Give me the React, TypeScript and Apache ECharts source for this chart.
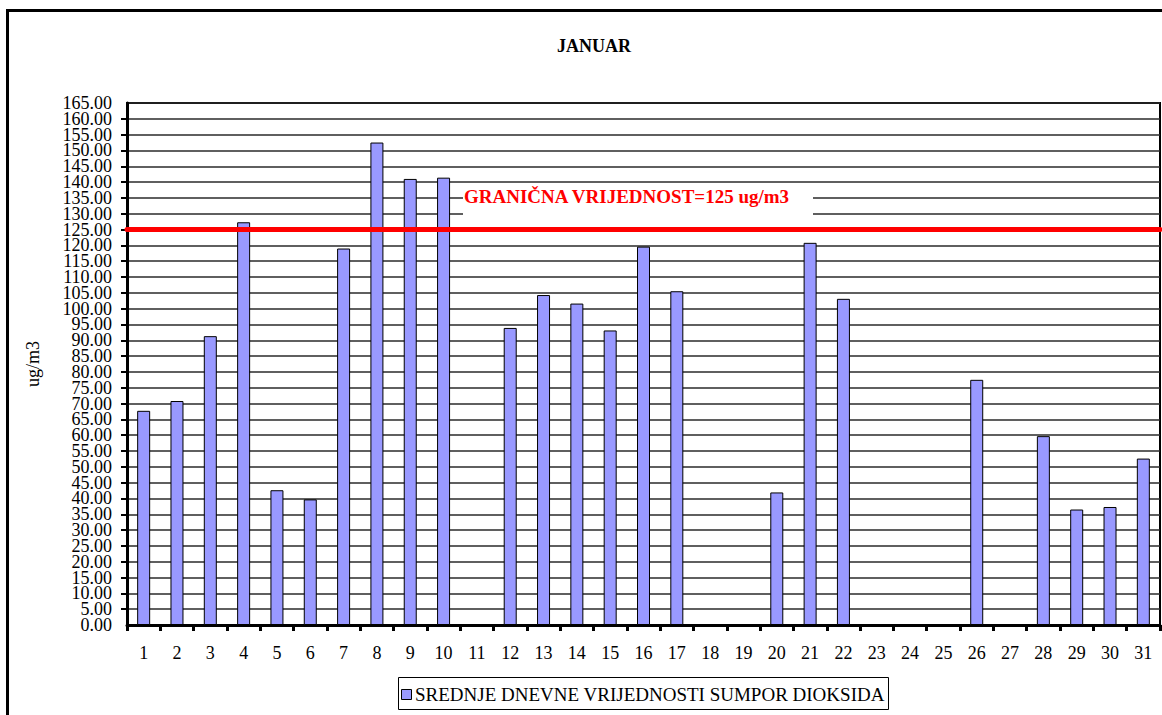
import React, { useEffect, useRef } from "react";
import * as echarts from "echarts";

const days: string[] = [
  "1","2","3","4","5","6","7","8","9","10","11","12","13","14","15","16",
  "17","18","19","20","21","22","23","24","25","26","27","28","29","30","31",
];
const so2Values: (number | null)[] = [
  67.7, 70.8, 91.3, 127.3, 42.6, 39.7, 119.0, 152.5, 141.0, 141.4, null,
  93.9, 104.3, 101.6, 93.1, 119.6, 105.5, null, null, 41.9, 120.8, 103.1,
  null, null, null, 77.5, null, 59.7, 36.5, 37.3, 52.6,
];
const limitValue = 125;
const yMin = 0;
const yMax = 165;
const yStep = 5;
const seriesName = "SREDNJE DNEVNE VRIJEDNOSTI SUMPOR DIOKSIDA";
const titleText = "JANUAR";
const unitName = "ug/m3";
const limitLabel = "GRANIČNA VRIJEDNOST=125 ug/m3";

const SERIF = "Liberation Serif";

export default function App() {
  const ref = useRef<HTMLDivElement>(null);
  useEffect(() => {
    document.body.style.margin = "0";
    if (!ref.current) return;
    const chart = echarts.init(ref.current, undefined, { renderer: "svg" });
    const labelStyle = { fontFamily: SERIF, fontSize: 18, color: "#000", margin: 15 };
    chart.setOption({
      animation: false,
      backgroundColor: "#ffffff",
      textStyle: { fontFamily: SERIF },
      title: {
        text: titleText,
        left: 552,
        top: 32,
        textStyle: { fontFamily: SERIF, fontWeight: "bold", fontSize: 18, color: "#000" },
      },
      grid: {
        left: 127,
        top: 103,
        right: 2,
        bottom: 90,
        show: true,
        borderColor: "#000",
        borderWidth: 2,
        backgroundColor: "#fff",
      },
      xAxis: {
        type: "category",
        data: days,
        axisLine: { lineStyle: { color: "#000", width: 3 } },
        axisTick: { show: true, alignWithLabel: false, length: 6, lineStyle: { color: "#000", width: 3 } },
        axisLabel: { fontFamily: SERIF, fontSize: 18, color: "#000", margin: 19, interval: 0 },
        splitLine: { show: false },
      },
      yAxis: [
        {
          type: "value",
          min: yMin,
          max: yMax,
          interval: yStep,
          name: unitName,
          nameLocation: "middle",
          nameGap: 85,
          nameRotate: 90,
          nameTextStyle: { fontFamily: SERIF, fontSize: 18, color: "#000" },
          axisLine: { show: true, lineStyle: { color: "#000", width: 3 } },
          axisTick: { show: true, length: 6, lineStyle: { color: "#000", width: 2 } },
          axisLabel: {
            ...labelStyle,
            formatter: (v: number) => v.toFixed(2),
          },
          splitLine: { show: true, lineStyle: { color: "#2a2a2a", width: 1.5 } },
        },
        {
          type: "value",
          min: yMin,
          max: yMax,
          interval: yStep,
          position: "left",
          offset: 0,
          axisLine: { show: false },
          axisTick: { show: false },
          splitLine: { show: false },
          axisLabel: {
            ...labelStyle,
            showMinLabel: true,
            showMaxLabel: true,
            formatter: (v: number) => (v === yMin || v === yMax ? v.toFixed(2) : ""),
          },
        },
      ],
      series: [
        {
          name: seriesName,
          type: "bar",
          data: so2Values,
          barWidth: 13,
          itemStyle: { color: "#9999ff", borderColor: "#000", borderWidth: 1 },
          markLine: {
            silent: true,
            symbol: ["none", "none"],
            label: { show: false },
            lineStyle: { color: "#ff0000", width: 5, type: "solid", cap: "round" },
            data: [{ yAxis: limitValue }],
          },
        },
      ],
      graphic: [
        {
          type: "rect",
          shape: { x: 7.5, y: 10.5, width: 2000, height: 2000 },
          style: { fill: "none", stroke: "#000", lineWidth: 3 },
          silent: true,
          z: 100,
        },
        {
          type: "rect",
          shape: { x: 463, y: 187, width: 350, height: 30 },
          style: { fill: "#fff" },
          silent: true,
          z: 50,
        },
        {
          type: "text",
          x: 464,
          y: 196,
          style: {
            text: limitLabel,
            fill: "#ff0000",
            font: 'bold 19px "Liberation Serif"',
            verticalAlign: "middle",
            align: "left",
          },
          silent: true,
          z: 51,
        },
        {
          type: "rect",
          shape: { x: 398.5, y: 677.5, width: 490, height: 32 },
          style: { fill: "#fff", stroke: "#000", lineWidth: 1 },
          silent: true,
          z: 50,
        },
        {
          type: "rect",
          shape: { x: 401.5, y: 689.5, width: 10, height: 10 },
          style: { fill: "#9999ff", stroke: "#000", lineWidth: 1 },
          silent: true,
          z: 51,
        },
        {
          type: "text",
          x: 415,
          y: 694,
          style: {
            text: seriesName,
            fill: "#000",
            font: '19px "Liberation Serif"',
            verticalAlign: "middle",
            align: "left",
          },
          silent: true,
          z: 51,
        },
      ],
    });
    return () => chart.dispose();
  }, []);
  return <div ref={ref} style={{ width: 1162, height: 715 }} />;
}
